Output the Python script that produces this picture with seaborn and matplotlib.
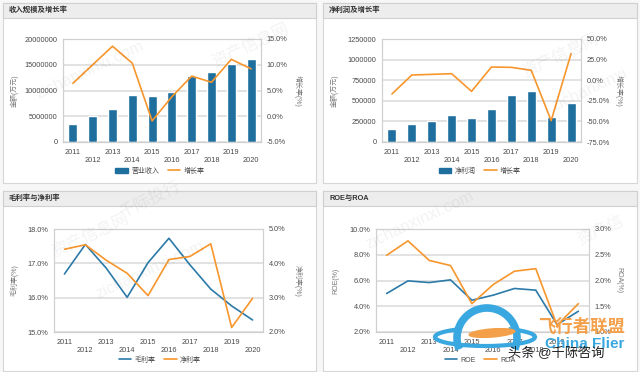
import numpy as np
import matplotlib.pyplot as plt
import seaborn as sns
from matplotlib.patches import Rectangle, Arc, Ellipse, Patch
from matplotlib.lines import Line2D
from matplotlib.ticker import FuncFormatter

# data
years = ['2011', '2012', '2013', '2014', '2015', '2016', '2017', '2018', '2019', '2020']
revenue = [3500000, 4970000, 6410000, 9050000, 8930000, 9770000, 12800000, 13600000, 15070000, 16170000]
revenue_growth = [6.4, 10.0, 13.6, 10.3, -0.9, 3.8, 7.8, 6.6, 11.05, 9.2]
profit = [158000, 218000, 259000, 332000, 291000, 400000, 566000, 623000, 307000, 473000]
profit_growth = [-16.7, 6.3, 7.1, 7.9, -13.5, 16.0, 15.6, 12.0, -49.1, 32.2]
gross_margin = [16.69, 17.55, 16.86, 16.01, 17.02, 17.73, 16.96, 16.25, 15.76, 15.35]
net_margin = [4.41, 4.54, 4.09, 3.71, 3.06, 4.11, 4.20, 4.57, 2.13, 2.98]
roe = [4.99, 5.97, 5.84, 6.05, 4.47, 4.86, 5.38, 5.25, 2.57, 3.61]
roa = [2.49, 2.77, 2.39, 2.29, 1.55, 1.92, 2.18, 2.23, 1.13, 1.55]

BLUE = '#1f6f9e'
LBLUE = '#2b7aa8'
ORANGE = '#f7962c'
GRID = '#dadada'
TXT = '#4a4a4a'

sns.set_style('white')
plt.rcParams['font.family'] = ['Liberation Sans', 'Noto Sans CJK SC']
plt.rcParams['axes.unicode_minus'] = False

W, H = 640, 372
fig = plt.figure(figsize=(6.4, 3.72), dpi=100)
fig.patch.set_facecolor('#f7f7f7')


def fx(x):
    return x / W


def fy(y):
    return 1 - y / H


def panel(x0, y0, x1, y1, title):
    fig.patches.append(Rectangle((fx(x0), fy(y1)), fx(x1 - x0), (y1 - y0) / H,
                                 transform=fig.transFigure, facecolor='white',
                                 edgecolor='#d6d6d6', lw=0.8, zorder=-2))
    fig.patches.append(Rectangle((fx(x0), fy(y0 + 15)), fx(x1 - x0), 15 / H,
                                 transform=fig.transFigure, facecolor='#ededed',
                                 edgecolor='#d0d0d0', lw=0.8, zorder=-1))
    fig.text(fx(x0 + 6), fy(y0 + 7.5), title, fontsize=5.3, color='#333333',
             va='center', ha='left', fontweight='bold')


def make_axes(x0, y0, x1, y1):
    ax = fig.add_axes([fx(x0), fy(y1), fx(x1 - x0), (y1 - y0) / H])
    ax.set_facecolor('none')
    return ax


def style(ax, ax2, ylim, yticks, yfmt, rlim, rticks, lab_l, lab_r, x0, x1):
    n = len(years)
    ax.set_xlim(-0.5, n - 0.5)
    ax.set_ylim(*ylim)
    ax.set_yticks(yticks)
    ax.yaxis.set_major_formatter(FuncFormatter(yfmt))
    ax2.set_ylim(*rlim)
    ax2.set_yticks(rticks)
    ax2.yaxis.set_major_formatter(FuncFormatter(lambda v, p: f'{v:.1f}%'))
    ax.set_xticks(range(n))
    ax.set_xticklabels([y if i % 2 == 0 else '\n' + y for i, y in enumerate(years)])
    ax.grid(axis='y', color=GRID, lw=1.1)
    ax.set_axisbelow(True)
    for a in (ax, ax2):
        for s in a.spines.values():
            s.set_color('#d0d0d0')
            s.set_linewidth(0.8)
        a.tick_params(axis='y', length=0, labelsize=5.3, labelcolor=TXT, pad=4)
    ax.tick_params(axis='x', length=3, color='#cccccc', labelsize=5.3,
                   labelcolor=TXT, pad=2, direction='out')
    ax.set_xlabel('')
    ax2.set_xlabel('')
    w = x1 - x0
    ax.set_ylabel(lab_l, fontsize=5, color='#777777')
    ax.yaxis.set_label_coords((19 - x0) / w if x0 < 320 else (339 - x0) / w, 0.5)
    ax2.set_ylabel(lab_r, fontsize=5, color='#777777', rotation=270, va='center')
    ax2.yaxis.set_label_coords((298 - x0) / w if x0 < 320 else (619 - x0) / w, 0.5)


def legend(ax, handles, labels, cx, cy):
    ax.legend(handles, labels, loc='center', bbox_to_anchor=(fx(cx), fy(cy)),
              bbox_transform=fig.transFigure, ncol=2, frameon=False,
              fontsize=5, labelcolor=TXT, handlelength=1.8, columnspacing=1.2,
              handletextpad=0.5)


# panels
panel(3, 3, 316, 183, '收入规模及增长率')
panel(323, 3, 637, 183, '净利润及增长率')
panel(3, 191, 316, 371, '毛利率与净利率')
panel(323, 191, 637, 371, 'ROE与ROA')

xs = np.arange(len(years))

# 1: revenue
ax = make_axes(63, 39, 261, 142)
sns.barplot(x=years, y=revenue, ax=ax, color=BLUE, saturation=1, width=0.45)
ax2 = ax.twinx()
sns.lineplot(x=xs, y=revenue_growth, ax=ax2, color=ORANGE, lw=1.2)
style(ax, ax2, (0, 20000000), np.arange(0, 20000001, 5000000), lambda v, p: f'{int(v)}',
      (-5, 15), np.arange(-5, 15.1, 5), '金额(万元)', '增长率(%)', 63, 261)
legend(ax, [Patch(color=BLUE), Line2D([], [], color=ORANGE, lw=1.2)], ['营业收入', '增长率'], 160, 171)

# 2: net profit
ax = make_axes(382, 39, 581, 142)
sns.barplot(x=years, y=profit, ax=ax, color=BLUE, saturation=1, width=0.45)
ax2 = ax.twinx()
sns.lineplot(x=xs, y=profit_growth, ax=ax2, color=ORANGE, lw=1.2)
style(ax, ax2, (0, 1250000), np.arange(0, 1250001, 250000), lambda v, p: f'{int(v)}',
      (-75, 50), np.arange(-75, 50.1, 25), '金额(万元)', '增长率(%)', 382, 581)
legend(ax, [Patch(color=BLUE), Line2D([], [], color=ORANGE, lw=1.2)], ['净利润', '增长率'], 480, 171)

# 3: margins
ax = make_axes(54, 229, 263, 332)
sns.lineplot(x=xs, y=gross_margin, ax=ax, color=LBLUE, lw=1.2)
ax2 = ax.twinx()
sns.lineplot(x=xs, y=net_margin, ax=ax2, color=ORANGE, lw=1.2)
style(ax, ax2, (15, 18), np.arange(15, 18.1, 1), lambda v, p: f'{v:.1f}%',
      (2, 5), np.arange(2, 5.1, 1), '毛利率(%)', '净利率(%)', 54, 263)
legend(ax, [Line2D([], [], color=LBLUE, lw=1.2), Line2D([], [], color=ORANGE, lw=1.2)],
       ['毛利率', '净利率'], 160, 360)

# 4: ROE / ROA
ax = make_axes(376, 229, 589, 332)
sns.lineplot(x=xs, y=roe, ax=ax, color=LBLUE, lw=1.2)
ax2 = ax.twinx()
sns.lineplot(x=xs, y=roa, ax=ax2, color=ORANGE, lw=1.2)
style(ax, ax2, (2, 10), np.arange(2, 10.1, 2), lambda v, p: f'{v:.1f}%',
      (1, 3), np.arange(1, 3.01, 0.5), 'ROE(%)', 'ROA(%)', 376, 589)
legend(ax, [Line2D([], [], color=LBLUE, lw=1.2), Line2D([], [], color=ORANGE, lw=1.2)],
       ['ROE', 'ROA'], 480, 360)

# faint watermarks
for (x, y, s) in [(90, 70, 'zichanxinxi.com'), (250, 45, '资产信息网'), (560, 55, '资产信息网'),
                  (590, 90, 'zichanxinxi'), (90, 235, '资产信息网'), (150, 270, 'zichanxinxi.com'),
                  (420, 220, 'zichanxinxi.com'), (600, 230, '资产信'), (150, 200, '千际投行')]:
    fig.text(fx(x), fy(y), s, fontsize=12, color='#000000',
             alpha=0.05, rotation=25, ha='center', va='center', zorder=20)

# logo overlay
fig.patches.append(Arc((fx(487), fy(338)), fx(60), 60 / H, theta1=-35, theta2=215,
                       transform=fig.transFigure, color='#3aa8e0', lw=5.5, zorder=30))
fig.patches.append(Arc((fx(485), fy(337)), fx(100), 18 / H, theta1=150, theta2=390,
                       transform=fig.transFigure, color='#3aa8e0', lw=3, zorder=30))
fig.patches.append(Ellipse((fx(492), fy(333)), fx(46), 8 / H, angle=8,
                           transform=fig.transFigure, color='#f4a04a', zorder=31))
fig.text(fx(538), fy(326), '飞行者联盟', fontsize=12.5, color='#f4a04a', ha='left',
         va='center', zorder=32, fontweight='bold')
fig.text(fx(545), fy(344), 'China Flier', fontsize=11, color='#3aa8e0', ha='left',
         va='center', zorder=32, fontweight='bold')
fig.text(fx(508), fy(353), '头条 @千际咨询', fontsize=9.5, color='#222222', ha='left',
         va='center', zorder=33)

fig.savefig('out.png', dpi=100, facecolor=fig.get_facecolor())
